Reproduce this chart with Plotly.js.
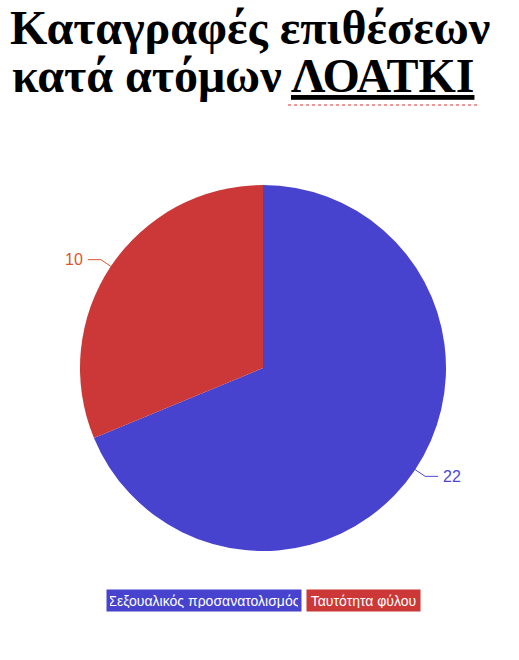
<!DOCTYPE html>
<html>
<head>
<meta charset="utf-8">
<script src="https://cdn.plot.ly/plotly-3.0.1.min.js"></script>
<style>
  html, body { margin: 0; padding: 0; background: #fff; }
  #chart { width: 519px; height: 660px; }
</style>
</head>
<body>
<div id="chart"></div>
<script>
const titleLines = ['Καταγραφές επιθέσεων', 'κατά ατόμων <u>ΛΟΑΤΚΙ</u>'];
const categories = ['Σεξουαλικός προσανατολισμός', 'Ταυτότητα φύλου'];
const counts = [22, 10];
const sliceColors = ['#4743cf', '#cc3737'];
const labelColors = ['#4b47d3', '#d8552f'];

// page geometry (pixels)
const W = 519, H = 660;
const CX = 263, CY = 368, R = 183;
const px = x => x / W;
const py = y => 1 - y / H;

// value labels with elbow leader lines, placed from the slice angles
const total = counts.reduce((a, b) => a + b, 0);
const shapes = [];
const annotations = [];
let cum = 0;
counts.forEach((v, i) => {
  const mid = (cum + v / 2) / total * 2 * Math.PI;
  cum += v;
  const s = Math.sin(mid), c = Math.cos(mid);
  const side = s >= 0 ? 1 : -1;
  const ex = CX + R * s, ey = CY - R * c;
  const kx = CX + (R + 12) * s, ky = CY - (R + 12) * c;
  const hx = kx + side * 13;
  shapes.push({
    type: 'path', xref: 'paper', yref: 'paper',
    path: `M${px(ex)},${py(ey)} L${px(kx)},${py(ky)} L${px(hx)},${py(ky)}`,
    line: { color: labelColors[i], width: 1 },
  });
  annotations.push({
    xref: 'paper', yref: 'paper',
    x: px(hx + side * 3), y: py(ky),
    xanchor: side > 0 ? 'left' : 'right', yanchor: 'middle',
    text: String(v), showarrow: false,
    font: { family: 'Liberation Sans Narrow, Liberation Sans, sans-serif', size: 16, stretch: 'condensed', color: labelColors[i] },
  });
});

// second title line
annotations.push({
  xref: 'paper', yref: 'paper', x: px(10), y: py(76), xanchor: 'left', yanchor: 'middle',
  text: titleLines[1], showarrow: false,
  font: { family: 'Liberation Serif, Times New Roman, serif', size: 48, weight: 700, color: '#000' },
});
// spell-check squiggle under the last word
shapes.push({
  type: 'line', xref: 'paper', yref: 'paper',
  x0: px(288), x1: px(478), y0: py(105), y1: py(105),
  line: { color: '#e03030', width: 1, dash: 'dot' },
});

// legend as coloured tags
const legendBoxes = [
  { x: px(302), xanchor: 'right', w: 188 },
  { x: px(306), xanchor: 'left', w: 107 },
];
categories.forEach((cat, i) => {
  annotations.push({
    xref: 'paper', yref: 'paper', x: legendBoxes[i].x, y: py(600.5),
    xanchor: legendBoxes[i].xanchor, yanchor: 'middle',
    text: cat, showarrow: false,
    width: legendBoxes[i].w, height: 15, borderpad: 3,
    bgcolor: sliceColors[i],
    font: { family: 'Liberation Sans, Arial, sans-serif', size: 14, color: '#fff' },
  });
});

Plotly.newPlot('chart', [{
  type: 'pie',
  labels: categories,
  values: counts,
  sort: false,
  direction: 'clockwise',
  rotation: 0,
  marker: { colors: sliceColors, line: { width: 0 } },
  textinfo: 'none',
  hoverinfo: 'label+value',
  domain: { x: [px(CX - R), px(CX + R)], y: [py(CY + R), py(CY - R)] },
  showlegend: false,
}], {
  width: W, height: H,
  margin: { l: 0, r: 0, t: 0, b: 0 },
  paper_bgcolor: '#fff',
  showlegend: false,
  title: {
    text: titleLines[0],
    x: px(10), xanchor: 'left', xref: 'paper',
    y: py(27), yanchor: 'middle', yref: 'container',
    font: { family: 'Liberation Serif, Times New Roman, serif', size: 48, weight: 700, color: '#000' },
  },
  shapes: shapes,
  annotations: annotations,
}, { displayModeBar: false });
</script>
</body>
</html>
